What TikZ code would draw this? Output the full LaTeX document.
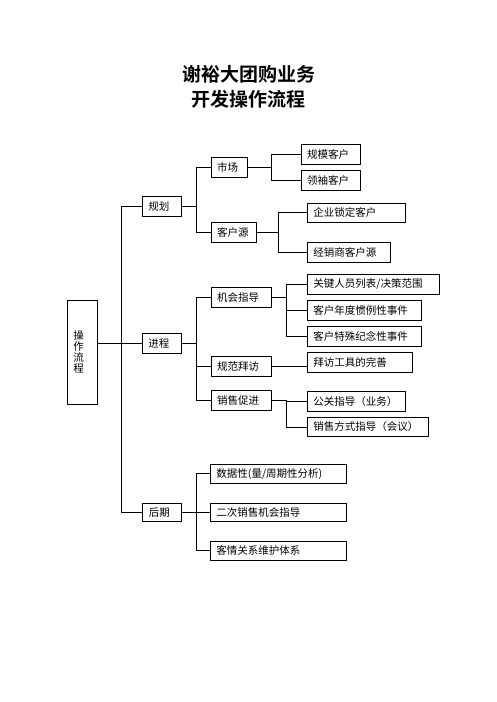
\documentclass[tikz,border=0pt]{standalone}
\usepackage{fontspec}
\setmainfont{Noto Sans CJK SC}
\newfontfamily\titlefont{Noto Sans CJK SC Bold}
\begin{document}
\begin{tikzpicture}[x=1pt,y=-1pt,
  box/.style={draw, line width=0.9pt, inner xsep=6pt, inner ysep=0pt,
    minimum height=20pt, align=left, anchor=west, font=\fontsize{10.5pt}{12pt}\selectfont},
  conn/.style={line width=0.9pt},
  ttl/.style={font=\titlefont\fontsize{19pt}{22pt}\selectfont}]
\useasboundingbox (0,0) rectangle (496,702);
\fill[white] (0,0) rectangle (496,702);

\node[ttl] (t1) at (248.5,74) {谢裕大团购业务};
\node[ttl] (t2) at (248.5,99.5) {开发操作流程};

% level 0
\node[draw, line width=0.9pt, text width=18pt, inner xsep=6pt, minimum height=104pt, inner ysep=0pt,
  align=left, font=\fontsize{10.5pt}{11pt}\selectfont] (op) at (82.3,352) {操\\作\\流\\程};

% level 1
\node[box, text width=26.7pt] (gh) at (142,206.7) {规划};
\node[box, text width=26.7pt] (jc) at (142,343.7) {进程};
\node[box, text width=26.4pt, minimum height=18.5pt] (hq) at (142.3,512.5) {后期};

% planning
\node[box, text width=24.6pt] (sc) at (210.7,167) {市场};
\node[box, text width=33pt] (khy) at (210.7,232) {客户源};
\node[box, text width=47.3pt] (gm) at (300.7,154) {规模客户};
\node[box, text width=47.3pt] (lx) at (300.7,180) {领袖客户};
\node[box, text width=86pt, minimum height=19pt] (qy) at (307,212.5) {企业锁定客户};
\node[box, text width=71pt] (jx) at (307,252) {经销商客户源};

% process
\node[box, text width=48pt] (jh) at (210.7,297.3) {机会指导};
\node[box, text width=48pt] (gf) at (210.7,366.7) {规范拜访};
\node[box, text width=48pt] (xc) at (210.7,400.7) {销售促进};
\node[box, text width=120pt] (gj) at (307,284) {关键人员列表/决策范围};
\node[box, text width=101.7pt] (nd) at (307,310.7) {客户年度惯例性事件};
\node[box, text width=101.7pt, minimum height=19.3pt] (ts) at (307,336.3) {客户特殊纪念性事件};
\node[box, text width=92.7pt] (bf) at (307,362.7) {拜访工具的完善};
\node[box, text width=86pt, minimum height=19.3pt] (gg) at (307,401.3) {公关指导（业务）};
\node[box, text width=109.3pt, minimum height=19.3pt] (xf) at (307,427) {销售方式指导（会议）};

% later
\node[box, text width=124pt, minimum height=19pt] (sj) at (210,473.8) {数据性(量/周期性分析)};
\node[box, text width=124pt, minimum height=18.5pt] (ec) at (210,512.5) {二次销售机会指导};
\node[box, text width=124pt, minimum height=18.5pt] (kq) at (210,550.9) {客情关系维护体系};

% trunk
\coordinate (trk) at (121,0);
\draw[conn] (op.east |- jc.west) -- (jc.west);
\draw[conn] (gh.west) -- (gh.west -| trk) -- (hq.west -| trk) -- (hq.west);

% branches
\draw[conn] (gh.east) -- ++(15,0) coordinate (b1) |- (sc.west) (b1) |- (khy.west);
\draw[conn] (sc.east) -- ++(23.4,0) coordinate (b2) |- (gm.west) (b2) |- (lx.west);
\draw[conn] (khy.east) -- ++(21.6,0) coordinate (b3) |- (qy.west) (b3) |- (jx.west);
\draw[conn] (jc.east) -- ++(15,0) coordinate (b4) |- (jh.west) (b4) |- (gf.west) (b4) |- (xc.west);
\draw[conn] (jh.east) -- ++(15,0) coordinate (b5) |- (gj.west) (b5) |- (nd.west) (b5) |- (ts.west);
\draw[conn] (gf.east) -- (gf.east -| bf.west);
\draw[conn] (xc.east) -- ++(15,0) coordinate (b6) |- (gg.west) (b6) |- (xf.west);
\draw[conn] (hq.east) -- ++(15,0) coordinate (b7) |- (sj.west) (b7) |- (ec.west) (b7) |- (kq.west);
\end{tikzpicture}
\end{document}
